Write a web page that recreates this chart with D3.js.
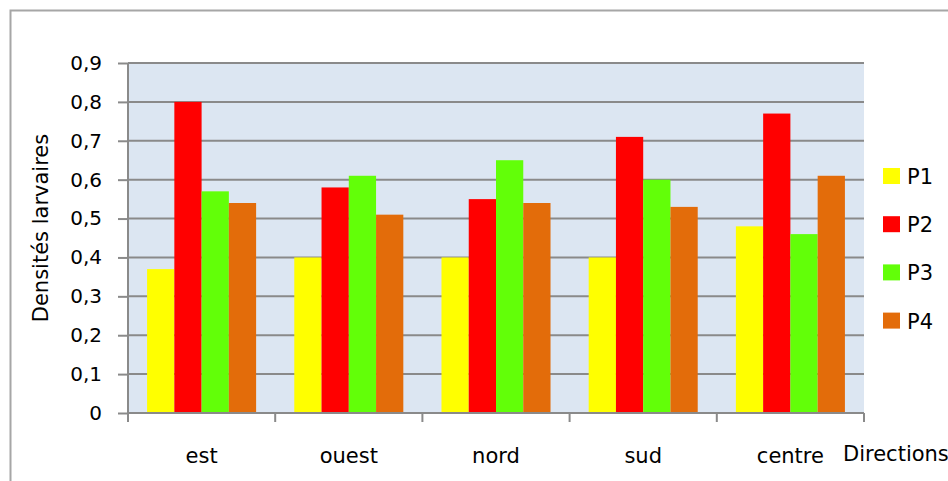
<!DOCTYPE html>
<html>
<head>
<meta charset="utf-8">
<script src="https://cdn.jsdelivr.net/npm/d3@7"></script>
<style>
  html, body { margin: 0; padding: 0; background: #fff; }
  svg { display: block; }
  text { font-family: "DejaVu Sans", sans-serif; fill: #000; }
</style>
</head>
<body>
<svg id="chart" width="948" height="481"></svg>
<script>
// Larval densities per direction and period
const directions = ["est", "ouest", "nord", "sud", "centre"];
const periods = ["P1", "P2", "P3", "P4"];
const P1 = [0.37, 0.40, 0.40, 0.40, 0.48];
const P2 = [0.80, 0.58, 0.55, 0.71, 0.77];
const P3 = [0.57, 0.61, 0.65, 0.60, 0.46];
const P4 = [0.54, 0.51, 0.54, 0.53, 0.61];
const yTicks = [0, 0.1, 0.2, 0.3, 0.4, 0.5, 0.6, 0.7, 0.8, 0.9];
const colors = ["#FFFF00", "#FF0000", "#62FF08", "#E36C0A"];

const seriesValues = [P1, P2, P3, P4];
const rows = directions.map((d, i) => ({
  direction: d,
  values: periods.map((p, j) => ({ period: p, value: seriesValues[j][i] }))
}));

const svg = d3.select("#chart");
const plot = { left: 128, right: 864, top: 63, bottom: 413 };
const axisColor = "#8a8a8a";

// Outer chart frame (top and left edges are the visible ones)
svg.append("path")
  .attr("d", "M10.5,481 V10.5 H948")
  .attr("fill", "none")
  .attr("stroke", "#a6a6a6")
  .attr("stroke-width", 2);

const x0 = d3.scaleBand().domain(directions).range([plot.left, plot.right]).padding(0);
const x1 = d3.scaleBand().domain(periods).range([0, x0.bandwidth()])
  .paddingInner(0).paddingOuter(0.7);
const y = d3.scaleLinear().domain([0, 0.9]).range([plot.bottom, plot.top]);
const color = d3.scaleOrdinal().domain(periods).range(colors);

// Plot background
svg.append("rect")
  .attr("x", plot.left).attr("y", plot.top)
  .attr("width", plot.right - plot.left).attr("height", plot.bottom - plot.top)
  .attr("fill", "#DCE6F2");

// Horizontal gridlines
svg.append("g").selectAll("line")
  .data(yTicks.filter(t => t > 0))
  .join("line")
  .attr("x1", plot.left).attr("x2", plot.right)
  .attr("y1", d => y(d)).attr("y2", d => y(d))
  .attr("stroke", axisColor).attr("stroke-width", 2);

// Bars
svg.append("g").selectAll("g")
  .data(rows)
  .join("g")
  .attr("transform", d => `translate(${x0(d.direction)},0)`)
  .selectAll("rect")
  .data(d => d.values)
  .join("rect")
  .attr("x", d => x1(d.period))
  .attr("width", x1.bandwidth())
  .attr("y", d => y(d.value))
  .attr("height", d => y(0) - y(d.value))
  .attr("fill", d => color(d.period));

// Y axis
const yAxis = svg.append("g")
  .attr("transform", `translate(${plot.left},0)`)
  .call(d3.axisLeft(y).tickValues(yTicks).tickSize(10).tickPadding(16)
    .tickFormat(d => d3.format(".1f")(d).replace(".", ",").replace(/^0,0$/, "0")));
yAxis.select(".domain").attr("stroke", axisColor).attr("stroke-width", 2)
  .attr("d", `M0,${plot.top}V${plot.bottom}`);
yAxis.selectAll(".tick line").attr("stroke", axisColor).attr("stroke-width", 2);
yAxis.selectAll(".tick text").attr("font-size", 20).attr("font-family", "DejaVu Sans").attr("fill", "#000");

// X axis with ticks at category boundaries
const xAxisG = svg.append("g").attr("transform", `translate(0,${plot.bottom})`);
xAxisG.append("line")
  .attr("x1", plot.left).attr("x2", plot.right)
  .attr("stroke", axisColor).attr("stroke-width", 2);
const boundaries = directions.map(d => x0(d)).concat([x0(directions[directions.length - 1]) + x0.bandwidth()]);
xAxisG.selectAll("line.tick")
  .data(boundaries)
  .join("line")
  .attr("class", "tick")
  .attr("x1", d => d).attr("x2", d => d)
  .attr("y1", 0).attr("y2", 9)
  .attr("stroke", axisColor).attr("stroke-width", 2);
xAxisG.selectAll("text")
  .data(directions)
  .join("text")
  .attr("x", d => x0(d) + x0.bandwidth() / 2)
  .attr("y", 50)
  .attr("text-anchor", "middle")
  .attr("font-size", 21)
  .text(d => d);

// Axis titles
svg.append("text")
  .attr("x", 843).attr("y", 461)
  .attr("font-size", 21)
  .text("Directions");
svg.append("text")
  .attr("transform", `translate(48,${(plot.top + plot.bottom) / 2 - 10}) rotate(-90)`)
  .attr("text-anchor", "middle")
  .attr("font-size", 21)
  .text("Densités larvaires");

// Legend
const legend = svg.append("g").selectAll("g")
  .data(periods)
  .join("g")
  .attr("transform", (d, i) => `translate(883,${176 + i * 48.2})`);
legend.append("rect")
  .attr("x", 0).attr("y", -8).attr("width", 17).attr("height", 16)
  .attr("fill", d => color(d));
legend.append("text")
  .attr("x", 24).attr("y", 8)
  .attr("font-size", 21)
  .text(d => d);
</script>
</body>
</html>
